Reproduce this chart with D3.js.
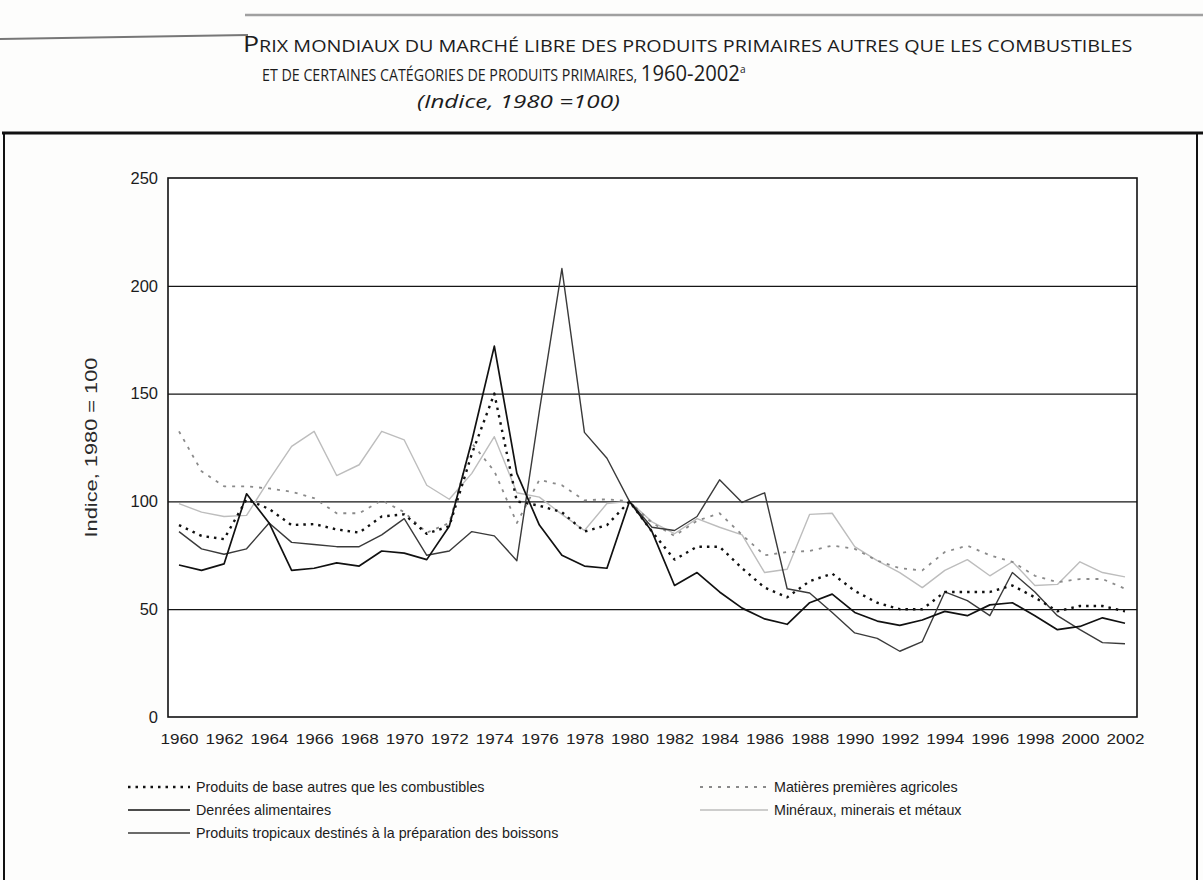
<!DOCTYPE html>
<html>
<head>
<meta charset="utf-8">
<script src="https://cdn.jsdelivr.net/npm/d3@7/dist/d3.min.js"></script>
<style>
  body { margin: 0; background: #fdfdfc; }
  svg { display: block; }
</style>
</head>
<body>
<div id="chart"></div>
<script>
// categories
const years = [1960, 1961, 1962, 1963, 1964, 1965, 1966, 1967, 1968, 1969,
  1970, 1971, 1972, 1973, 1974, 1975, 1976, 1977, 1978, 1979,
  1980, 1981, 1982, 1983, 1984, 1985, 1986, 1987, 1988, 1989,
  1990, 1991, 1992, 1993, 1994, 1995, 1996, 1997, 1998, 1999,
  2000, 2001, 2002];
const xTickYears = [1960, 1962, 1964, 1966, 1968, 1970, 1972, 1974, 1976, 1978, 1980,
  1982, 1984, 1986, 1988, 1990, 1992, 1994, 1996, 1998, 2000, 2002];
const yTicks = [0, 50, 100, 150, 200, 250];
const gridTicks = [50, 100, 150, 200];

// series (index 1980 = 100)
const produitsBase = [89, 84, 82.5, 101, 96.5, 89, 89.5, 87, 85.5, 93,
  94, 85, 88.5, 122, 150, 100, 98, 95, 86, 89,
  100, 86, 73, 79, 79, 69, 60, 55.5, 63, 66.5,
  58.5, 53, 50, 50, 58, 58, 58, 61, 55.5, 49,
  51.5, 51.5, 49];
const matieresAgricoles = [132.5, 114, 107, 107, 106, 104.5, 101.5, 94.5, 94.5, 100.5,
  95, 85.5, 90, 127, 114, 90, 110, 107.5, 100.5, 101,
  100, 90, 84, 91, 94.5, 84.5, 75, 76.5, 77, 79.5,
  78, 72.5, 69, 68, 76.5, 79.5, 75, 72, 65.5, 62.5,
  64, 64, 59.5];
const denrees = [70.5, 68, 71, 103.5, 90, 68, 69, 71.5, 70, 77,
  76, 73, 88.5, 128, 172, 113, 89, 75, 70, 69,
  100, 86, 61, 67, 58, 50.5, 45.5, 43, 53, 57,
  48.5, 44.5, 42.5, 45, 49, 47, 52, 53, 47, 40.5,
  42, 46, 43.5];
const mineraux = [99, 95, 93, 93.5, 110, 125.5, 132.5, 112, 117, 132.5,
  128.5, 107.5, 101, 113, 130, 104, 102, 94, 86.5, 99,
  100, 90.5, 85, 92, 88, 84.5, 67, 68.5, 94, 94.5,
  79, 72.5, 67, 60, 68, 73, 65.5, 72, 61, 61.5,
  72, 67, 65];
const tropicaux = [86, 78, 75.5, 78, 90, 81, 80, 79, 79, 84.5,
  92, 75, 77, 86, 84, 72.5, 142, 208, 132, 120,
  100, 88, 86.5, 93, 110, 99.5, 104, 59.5, 57.5, 48.5,
  39, 36.5, 30.5, 35, 58, 54, 47, 67, 58, 47,
  40.5, 34.5, 34];

const seriesNames = [
  'Produits de base autres que les combustibles',
  'Matières premières agricoles',
  'Denrées alimentaires',
  'Minéraux, minerais et métaux',
  'Produits tropicaux destinés à la préparation des boissons'
];

const series = [
  { name: seriesNames[3], values: mineraux, stroke: '#bdbdbd', width: 1.4, dash: null },
  { name: seriesNames[1], values: matieresAgricoles, stroke: '#8a8a8a', width: 1.8, dash: '3,6' },
  { name: seriesNames[4], values: tropicaux, stroke: '#3a3a3a', width: 1.4, dash: null },
  { name: seriesNames[2], values: denrees, stroke: '#111', width: 1.7, dash: null },
  { name: seriesNames[0], values: produitsBase, stroke: '#111', width: 2.4, dash: '2.5,5' }
];

const width = 1203, height = 880;
const plot = { left: 168, right: 1137, top: 178, bottom: 717 };
const ink = '#1c1c1c';
const sans = '"Liberation Sans", Arial, sans-serif';
const titleFont = '"Open Sans", "Noto Sans", sans-serif';

const svg = d3.select('#chart').append('svg')
  .attr('width', width)
  .attr('height', height);

// scanned-page decorations
svg.append('line').attr('x1', 245).attr('x2', 1203).attr('y1', 15).attr('y2', 15)
  .attr('stroke', '#a0a0a0').attr('stroke-width', 2.5);
svg.append('line').attr('x1', 0).attr('x2', 248).attr('y1', 39).attr('y2', 35)
  .attr('stroke', '#777').attr('stroke-width', 2);

// title: each line built from tspans, then squeezed to the width it has in the print
function titleLine(parts, x0, y0, targetWidth, italic) {
  const t = svg.append('text')
    .attr('font-family', titleFont)
    .attr('font-style', italic ? 'italic' : null)
    .attr('fill', ink);
  parts.forEach(p => {
    t.append('tspan')
      .attr('font-size', p.size)
      .attr('dy', p.dy || null)
      .text(p.text);
  });
  const w = t.node().getBBox().width;
  t.attr('transform', `translate(${x0},${y0}) scale(${targetWidth / w},1)`);
}

titleLine([
  { text: 'P', size: 21 },
  { text: 'RIX MONDIAUX DU MARCHÉ LIBRE DES PRODUITS PRIMAIRES AUTRES QUE LES COMBUSTIBLES', size: 15.5 }
], 243, 52, 890);
titleLine([
  { text: 'ET DE CERTAINES CATÉGORIES DE PRODUITS PRIMAIRES, ', size: 15.5 },
  { text: '1960-2002', size: 22 },
  { text: 'a', size: 11, dy: -8 }
], 262, 81, 484);
titleLine([
  { text: '(Indice, 1980 =100)', size: 19 }
], 417, 108, 203, true);

// outer box
svg.append('line').attr('x1', 2).attr('x2', 1203).attr('y1', 133).attr('y2', 133)
  .attr('stroke', '#111').attr('stroke-width', 3);
svg.append('line').attr('x1', 4).attr('x2', 4).attr('y1', 133).attr('y2', 880)
  .attr('stroke', '#111').attr('stroke-width', 2);
svg.append('line').attr('x1', 1197).attr('x2', 1197).attr('y1', 133).attr('y2', 880)
  .attr('stroke', '#111').attr('stroke-width', 2);

const x = d3.scaleLinear().domain([1960, 2002]).range([179, 1125]);
const y = d3.scaleLinear().domain([0, 250]).range([plot.bottom, plot.top]);

const g = svg.append('g');

// plot background
g.append('rect')
  .attr('x', plot.left).attr('y', plot.top)
  .attr('width', plot.right - plot.left).attr('height', plot.bottom - plot.top)
  .attr('fill', '#fff');

// gridlines
const grid = g.append('g')
  .attr('transform', `translate(${plot.left},0)`)
  .call(d3.axisLeft(y).tickValues(gridTicks).tickSize(-(plot.right - plot.left)).tickFormat(''));
grid.select('.domain').remove();
grid.selectAll('line').attr('stroke', '#151515').attr('stroke-width', 1.3);

// y axis
const yAxis = g.append('g')
  .attr('transform', `translate(${plot.left},0)`)
  .call(d3.axisLeft(y).tickValues(yTicks).tickSize(0).tickPadding(10));
yAxis.select('.domain').remove();
yAxis.selectAll('text')
  .attr('font-family', sans)
  .attr('font-size', 16.5).attr('fill', ink);

// x axis
const xAxis = g.append('g')
  .attr('transform', `translate(0,${plot.bottom})`)
  .call(d3.axisBottom(x).tickValues(xTickYears).tickFormat(d3.format('d')).tickSize(0).tickPadding(17));
xAxis.select('.domain').remove();
xAxis.selectAll('text')
  .attr('font-family', sans)
  .attr('font-size', 14.5).attr('fill', ink)
  .attr('textLength', 38).attr('lengthAdjust', 'spacingAndGlyphs');

// y title
g.append('text')
  .attr('transform', `translate(97,${(plot.top + plot.bottom) / 2}) rotate(-90)`)
  .attr('text-anchor', 'middle')
  .attr('font-family', sans)
  .attr('font-size', 17).attr('fill', '#2a2a2a')
  .attr('textLength', 180).attr('lengthAdjust', 'spacingAndGlyphs')
  .text('Indice, 1980 = 100');

// lines
const line = d3.line()
  .x((d, i) => x(years[i]))
  .y(d => y(d));

g.selectAll('.series')
  .data(series)
  .join('path')
  .attr('class', 'series')
  .attr('fill', 'none')
  .attr('stroke', d => d.stroke)
  .attr('stroke-width', d => d.width)
  .attr('stroke-dasharray', d => d.dash)
  .attr('stroke-linejoin', 'round')
  .attr('d', d => line(d.values));

// plot frame
g.append('rect')
  .attr('x', plot.left).attr('y', plot.top)
  .attr('width', plot.right - plot.left).attr('height', plot.bottom - plot.top)
  .attr('fill', 'none').attr('stroke', '#111').attr('stroke-width', 1.6);

// legend
const legendItems = [
  { s: series[4], col: 0, row: 0 },
  { s: series[1], col: 1, row: 0 },
  { s: series[3], col: 0, row: 1 },
  { s: series[0], col: 1, row: 1 },
  { s: series[2], col: 0, row: 2 }
];
const legendCols = [{ x1: 128, x2: 190, tx: 196 }, { x1: 700, x2: 768, tx: 774 }];
const legend = svg.append('g');
legendItems.forEach(item => {
  const c = legendCols[item.col];
  const ly = 787 + item.row * 23;
  legend.append('line')
    .attr('x1', c.x1).attr('x2', c.x2).attr('y1', ly).attr('y2', ly)
    .attr('stroke', item.s.stroke)
    .attr('stroke-width', item.s.width)
    .attr('stroke-dasharray', item.s.dash);
  legend.append('text')
    .attr('x', c.tx).attr('y', ly + 5)
    .attr('font-family', sans)
    .attr('font-size', 14.3).attr('fill', ink)
    .text(item.s.name);
});
</script>
</body>
</html>
